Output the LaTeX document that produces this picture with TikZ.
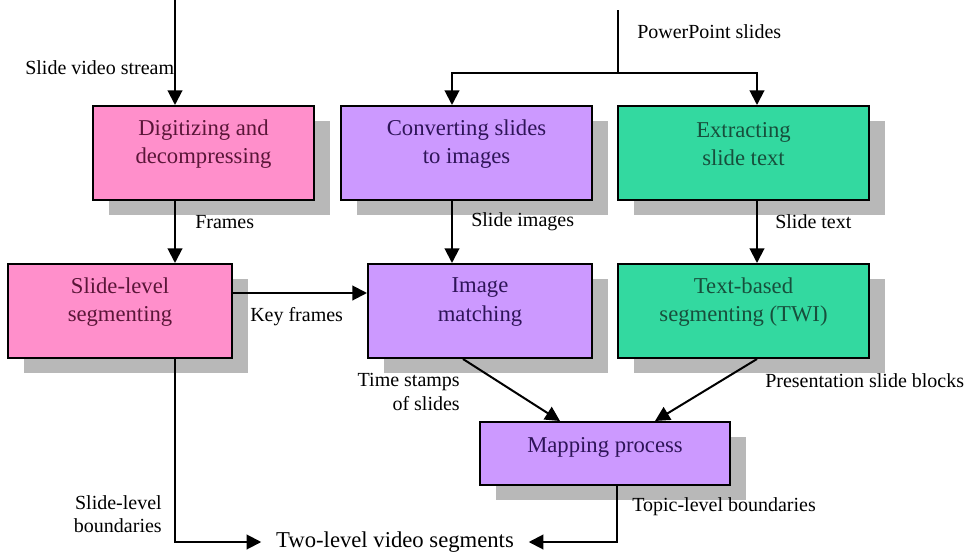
\documentclass[tikz,border=0pt]{standalone}
\usepackage{fontspec}
\setmainfont{Liberation Serif}
\usetikzlibrary{arrows.meta,shadows,calc}
\definecolor{pinkbox}{HTML}{FF8FCB}
\definecolor{purplebox}{HTML}{CC99FF}
\definecolor{greenbox}{HTML}{33D9A0}
\definecolor{pinktext}{HTML}{5A1638}
\definecolor{purpletext}{HTML}{2E1458}
\definecolor{greentext}{HTML}{174F3C}
\definecolor{shadowgray}{HTML}{B8B8B8}
\begin{document}
\begin{tikzpicture}[x=0.75pt,y=-0.75pt,
  box/.style={draw=black, line width=1.5pt, anchor=north west, inner sep=0pt,
    drop shadow={shadow xshift=12pt, shadow yshift=-11.25pt, fill=shadowgray, opacity=1}},
  boxtext/.style={align=center, font=\fontsize{17}{21.5}\selectfont, inner sep=0pt},
  lbl/.style={font=\fontsize{15}{17}\selectfont, inner sep=0pt},
  lbl2/.style={font=\fontsize{15}{17.5}\selectfont, inner sep=0pt},
  arr/.style={line width=1.5pt, -{Triangle[length=11pt,width=11pt]}},
  ln/.style={line width=1.5pt},
]
\useasboundingbox (0,0) rectangle (976,554);

% boxes
\node[box, fill=pinkbox, minimum width=165.75pt, minimum height=70.5pt] (d1) at (92,105) {};
\node[box, fill=purplebox, minimum width=188.25pt, minimum height=70.5pt] (c1) at (340,105) {};
\node[box, fill=greenbox, minimum width=188.25pt, minimum height=70.5pt] (e1) at (617,105) {};
\node[box, fill=pinkbox, minimum width=168pt, minimum height=70.5pt] (s2) at (7,263) {};
\node[box, fill=purplebox, minimum width=168pt, minimum height=70.5pt] (i2) at (367,263) {};
\node[box, fill=greenbox, minimum width=188.25pt, minimum height=70.5pt] (t2) at (617,263) {};
\node[box, fill=purplebox, minimum width=187.5pt, minimum height=47.25pt] (m3) at (479,421) {};

% box texts
\node[boxtext, text=pinktext] (d1t) at ($(d1.center)+(0,-9)$) {Digitizing and\\decompressing};
\node[boxtext, text=purpletext] (c1t) at ($(c1.center)+(0,-9)$) {Converting slides\\to images};
\node[boxtext, text=greentext] (e1t) at ($(e1.center)+(0,-9)$) {Extracting\\slide text};
\node[boxtext, text=pinktext] (s2t) at ($(s2.center)+(0,-9)$) {Slide-level\\segmenting};
\node[boxtext, text=purpletext] (i2t) at ($(i2.center)+(0,-9)$) {Image\\matching};
\node[boxtext, text=greentext] (t2t) at ($(t2.center)+(0,-9)$) {Text-based\\segmenting (TWI)};
\node[boxtext, text=purpletext] (m3t) at ($(m3.center)+(0,-6)$) {Mapping process};

% helper coordinates
\coordinate (xa) at (175,0);
\coordinate (xb) at (452,0);
\coordinate (xc) at (757,0);
\coordinate (xd) at (463,0);
\coordinate (xe) at (560,0);
\coordinate (xf) at (655,0);
\coordinate (xg) at (617,0);
\coordinate (ky) at (0,293);
\coordinate (top1) at (175,0);
\coordinate (top2) at (618,10);
\coordinate (junc) at (618,73);

% output node
\node[font=\fontsize{17}{20}\selectfont, inner xsep=11pt, inner ysep=0pt] (out) at (395,542) {Two-level video segments};

% connectors
\draw[arr] (top1) -- (d1.north -| top1);
\draw[ln] (top2) -- (junc);
\draw[arr] (junc) -| (c1.north -| xb);
\draw[arr] (junc) -| (e1.north -| xc);
\draw[arr] (d1.south -| xa) -- (s2.north -| xa);
\draw[arr] (c1.south -| xb) -- (i2.north -| xb);
\draw[arr] (e1.south -| xc) -- (t2.north -| xc);
\draw[arr] (s2.east |- ky) -- (i2.west |- ky);
\draw[arr] (i2.south -| xd) -- (m3.north -| xe);
\draw[arr] (t2.south -| xc) -- (m3.north -| xf);
\draw[arr] (s2.south -| xa) |- (out.west);
\draw[arr] (m3.south -| xg) |- (out.east);

% labels
\node[lbl, anchor=west] (lsv) at (25,68) {Slide video stream};
\node[lbl, anchor=west] (lpp) at (637,32) {PowerPoint slides};
\node[lbl, anchor=west] (lfr) at (195,222) {Frames};
\node[lbl, anchor=west] (lsi) at (471,222) {Slide images};
\node[lbl, anchor=west] (lst) at (775,222) {Slide text};
\node[lbl, anchor=west] (lkf) at (250,317) {Key frames};
\node[lbl2, anchor=east, align=right] (lts) at (460,392) {Time stamps\\of slides};
\node[lbl, anchor=west] (lpsb) at (765,381) {Presentation slide blocks};
\node[lbl, anchor=west] (ltlb) at (632,507) {Topic-level boundaries};
\node[lbl2, anchor=east, align=right] (lslb) at (162,514) {Slide-level\\boundaries};
\end{tikzpicture}
\end{document}
